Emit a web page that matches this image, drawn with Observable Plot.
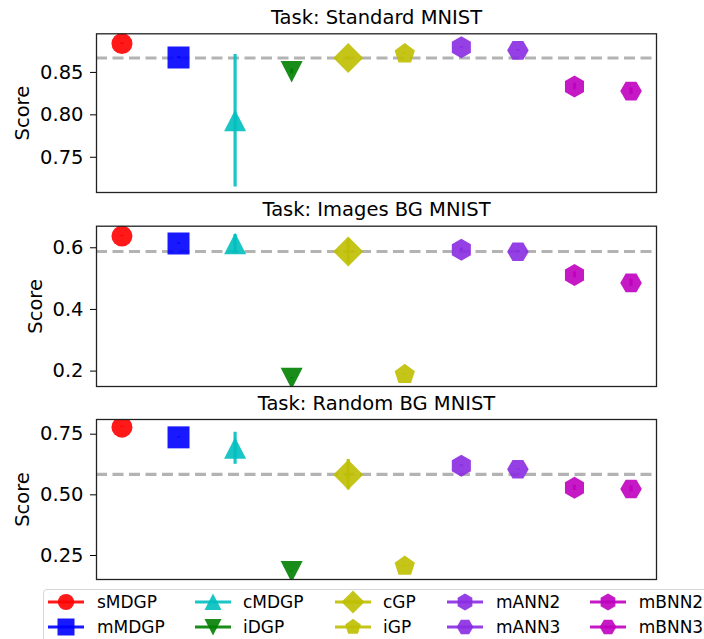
<!DOCTYPE html>
<html><head><meta charset="utf-8">
<script src="https://cdn.jsdelivr.net/npm/d3@7"></script>
<script src="https://cdn.jsdelivr.net/npm/@observablehq/plot@0.6"></script>
<style>
html,body{margin:0;padding:0;overflow:hidden;background:#fff;width:704px;height:639px;font-family:"DejaVu Sans",sans-serif;}
#chart svg{display:block}
#legend{position:absolute;left:43px;top:589px;width:720px;height:70px;border:1px solid #d6d6d6;border-radius:4px;box-sizing:border-box;background:#fff;}
.item{position:absolute;height:24px;display:flex;align-items:center;font-size:17px;color:#000;white-space:nowrap;}
.item svg{display:block;margin-right:12px;}
</style></head><body><div id="chart"></div><div id="legend"></div>
<script>
// ---------- data ----------
const models = ["sMDGP","mMDGP","cMDGP","iDGP","cGP","iGP","mANN2","mANN3","mBNN2","mBNN3"];
const colors = ["#ff0000","#0000ff","#00bfbf","#008000","#bfbf00","#bfbf00","#8a2be2","#8a2be2","#bf00bf","#bf00bf"];
const shapes = ["circle","square","triangleUp","triangleDown","diamond","pentagon","hexagon1","hexagon2","hexagon1","hexagon2"];
const tasks = ["Task: Standard MNIST","Task: Images BG MNIST","Task: Random BG MNIST"];
const standardScores = [0.884,0.8675,0.793,0.851,0.867,0.872,0.8796,0.876,0.8334,0.828];
const standardErrors = [0.001,0.001,0.078,0.003,0.002,0.001,0.001,0.001,0.004,0.004];
const imagesScores = [0.638,0.614,0.613,0.177,0.588,0.189,0.594,0.587,0.512,0.486];
const imagesErrors = [0.002,0.002,0.03,0.002,0.04,0.002,0.005,0.002,0.01,0.012];
const randomScores = [0.779,0.737,0.692,0.184,0.583,0.206,0.620,0.6055,0.529,0.524];
const randomErrors = [0.002,0.002,0.066,0.002,0.063,0.002,0.004,0.002,0.01,0.012];
const baselines = [0.867,0.588,0.584];
const yDomains = [[0.7085,0.8955],[0.150,0.670],[0.151,0.8106]];
const yTicks = [[0.75,0.80,0.85],[0.2,0.4,0.6],[0.25,0.50,0.75]];
const yTickLabels = [["0.75","0.80","0.85"],["0.2","0.4","0.6"],["0.25","0.50","0.75"]];
const yLabel = "Score";

// ---------- symbols ----------
function poly(ctx, pts){ ctx.moveTo(pts[0][0],pts[0][1]); for(let k=1;k<pts.length;k++) ctx.lineTo(pts[k][0],pts[k][1]); ctx.closePath(); }
function regular(n, R, start){ const p=[]; for(let k=0;k<n;k++){const a=(start+k*360/n)*Math.PI/180; p.push([R*Math.cos(a),R*Math.sin(a)]);} return p; }
const symbolDefs = {
  circle:{draw(ctx,s){const R=Math.sqrt(s/Math.PI)*0.955; ctx.moveTo(R,0); ctx.arc(0,0,R,0,2*Math.PI); ctx.closePath();}},
  square:{draw(ctx,s){const R=Math.sqrt(s/Math.PI); ctx.rect(-R,-R,2*R,2*R);}},
  triangleUp:{draw(ctx,s){const R=Math.sqrt(s/Math.PI); poly(ctx,[[0,-R],[-R,R*0.95],[R,R*0.95]]);}},
  triangleDown:{draw(ctx,s){const R=Math.sqrt(s/Math.PI); poly(ctx,[[0,R],[-R,-R*0.95],[R,-R*0.95]]);}},
  diamond:{draw(ctx,s){const R=Math.sqrt(s/Math.PI)*1.36; poly(ctx,[[0,-R],[R,0],[0,R],[-R,0]]);}},
  pentagon:{draw(ctx,s){const R=Math.sqrt(s/Math.PI)*0.97; poly(ctx,regular(5,R,-90));}},
  hexagon1:{draw(ctx,s){const R=Math.sqrt(s/Math.PI); poly(ctx,regular(6,R,-90));}},
  hexagon2:{draw(ctx,s){const R=Math.sqrt(s/Math.PI)*0.98; poly(ctx,regular(6,R,0));}}
};

// ---------- panels ----------
const allScores = [standardScores, imagesScores, randomScores];
const allErrors = [standardErrors, imagesErrors, randomErrors];
const margins = [[33.3,1],[32.7,1],[32,1]];
const heights = [193,194,193];
const labelX = [-74,-61,-74];
const chart = document.getElementById("chart");

for (let k=0;k<3;k++){
  const data = models.map((m,i)=>({i, model:m, score:allScores[k][i], err:allErrors[k][i]}));
  const marks = [
    Plot.ruleY([baselines[k]], {stroke:"#b3b3b3", strokeWidth:3.2, strokeDasharray:"11,5.5"}),
  ];
  data.forEach((d,i)=>{
    marks.push(Plot.dot([d], {x:"i", y:"score", r:11, symbol:symbolDefs[shapes[i]], fill:colors[i], fillOpacity:0.9, stroke:"none", clip:true}));
    marks.push(Plot.ruleX([d], {x:"i", y1:v=>v.score-v.err, y2:v=>v.score+v.err, stroke:colors[i], strokeOpacity:0.9, strokeWidth:3.2, clip:true}));
  });
  marks.push(Plot.frame({stroke:"#222", strokeWidth:1.3}));
  marks.push(Plot.axisY({ticks:yTicks[k], tickFormat:(v)=>yTickLabels[k][yTicks[k].indexOf(v)], tickSize:6, tickPadding:7, label:null, stroke:"#000"}));
  marks.push(Plot.text([tasks[k]], {frameAnchor:"top", dy:-10, lineAnchor:"bottom", fontSize:19.5, fill:"#000"}));
  marks.push(Plot.text([yLabel], {frameAnchor:"left", dx:labelX[k], rotate:-90, lineAnchor:"middle", textAnchor:"middle", fontSize:19.5, fill:"#000"}));
  const svg = Plot.plot({
    width:704, height:heights[k],
    marginLeft:96, marginRight:48, marginTop:margins[k][0], marginBottom:margins[k][1],
    x:{domain:[-0.45,9.45], axis:null},
    y:{domain:yDomains[k], axis:null},
    style:{fontFamily:"DejaVu Sans", fontSize:"19.5px", color:"#000", background:"#fff", overflow:"visible"},
    marks
  });
  chart.appendChild(svg);
}

// ---------- legend ----------
const legend = document.getElementById("legend");
const colText = [97,243,383,496,638.7];
const colLine = [48,195,335,447,590];
const rowY = [602,626.7];
models.forEach((m,i)=>{
  const c = Math.floor(i/2), r = i%2;
  const div = document.createElement("div");
  div.className="item";
  div.style.left = (colLine[c]-43-1)+"px";
  div.style.top = (rowY[r]-589-1-12)+"px";
  const p = d3.path();
  symbolDefs[shapes[i]].draw(p, Math.PI*8.5*8.5);
  const w = colText[c]-colLine[c]-12;
  div.innerHTML = `<svg width="${w}" height="24"><line x1="0" x2="36" y1="12" y2="12" stroke="${colors[i]}" stroke-opacity="0.9" stroke-width="2.8"/><path transform="translate(18,12)" d="${p.toString()}" fill="${colors[i]}" fill-opacity="0.9"/></svg><span>${m}</span>`;
  legend.appendChild(div);
});
</script>
</body></html>
